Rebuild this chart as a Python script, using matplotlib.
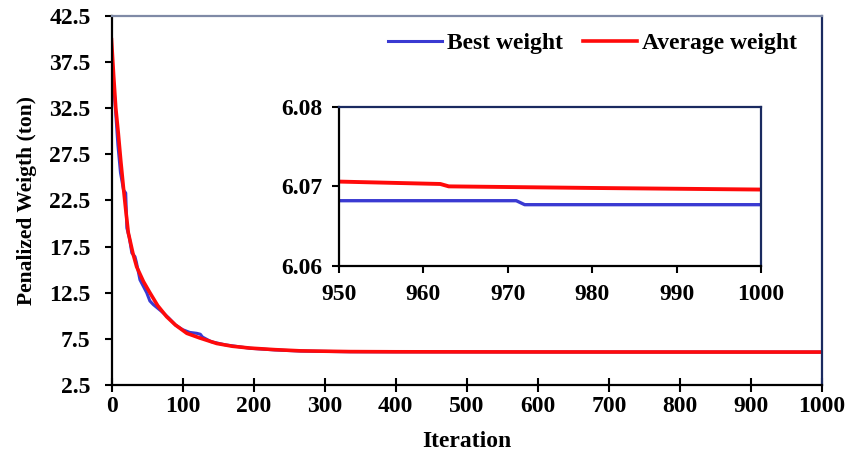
import matplotlib
matplotlib.use('Agg')

import matplotlib.pyplot as plt

# iteration points and penalized weight (ton)
iter_avg = [0, 3, 6, 9.5, 13, 16.6, 20, 23.6, 30, 35.4, 45, 54, 65, 77.6,
            90, 106, 124, 148, 170, 195, 230, 266, 336, 400, 500, 600, 700,
            800, 900, 950, 962, 963, 980, 1000]
avg_weight = [39.9, 36.0, 32.5, 29.8, 26.8, 24.0, 21.5, 19.0, 16.8, 15.3,
              13.7, 12.5, 11.1, 9.9, 9.0, 8.1, 7.6, 7.0, 6.7, 6.5, 6.33,
              6.2, 6.12, 6.1, 6.09, 6.082, 6.077, 6.074, 6.072, 6.0706,
              6.0703, 6.0700, 6.0698, 6.0696]

iter_best = [0, 5, 9, 12.6, 17, 20, 21.6, 25, 28.6, 33, 35, 40, 49.5, 54,
             59, 70, 80, 90, 100, 110, 120, 125, 128, 140, 160, 195, 230,
             266, 336, 400, 500, 600, 700, 800, 900, 950, 971, 972, 1000]
best_weight = [38.0, 33.0, 28.5, 25.5, 23.6, 23.3, 19.5, 18.5, 16.8, 16.4,
               15.8, 13.9, 12.5, 11.6, 11.2, 10.5, 9.8, 9.0, 8.5, 8.2, 8.1,
               8.0, 7.7, 7.2, 6.85, 6.48, 6.3, 6.18, 6.1, 6.09, 6.085,
               6.078, 6.074, 6.071, 6.069, 6.0682, 6.0682, 6.0677, 6.0677]

legend_labels = ['Best weight', 'Average weight']

plt.rcParams['font.family'] = ['Liberation Serif', 'DejaVu Serif']
plt.rcParams['font.weight'] = 'bold'

blue = '#3a3ad2'
red = '#ff0a0a'

fig = plt.figure(figsize=(8.48, 4.55), dpi=100)
ax = fig.add_axes([0.1315, 0.1538, 0.838, 0.8117])

ax.plot(iter_best, best_weight, color=blue, linewidth=2.2,
        label=legend_labels[0])
ax.plot(iter_avg, avg_weight, color=red, linewidth=2.6,
        label=legend_labels[1])

ax.set_xlim(0, 1000)
ax.set_ylim(2.5, 42.5)
ax.set_xticks(range(0, 1001, 100))
ax.set_yticks([2.5 + 5 * i for i in range(9)])
ax.set_yticklabels(['%.1f' % (2.5 + 5 * i) for i in range(9)])
ax.tick_params(axis='x', direction='inout', length=10, width=1.5,
               labelsize=17, pad=3)
ax.tick_params(axis='y', direction='out', length=5, width=1.5,
               labelsize=17, pad=10)
ax.spines['left'].set_linewidth(1.6)
ax.spines['bottom'].set_linewidth(1.6)
ax.spines['top'].set_color('#7f8aa6')
ax.spines['top'].set_linewidth(1.6)
ax.spines['right'].set_color('#1a2a60')
ax.spines['right'].set_linewidth(1.6)
ax.set_xlabel('Iteration', fontsize=17, fontweight='bold', labelpad=10)
ax.set_ylabel('Penalized Weigth (ton)', fontsize=15.5, fontweight='bold',
              labelpad=9)

ax.legend(loc='center right', ncol=2, frameon=False, fontsize=17,
          handlelength=2.3, handletextpad=0.2, columnspacing=0.85,
          borderpad=0, borderaxespad=0,
          bbox_to_anchor=(797 / 848, 1 - 43 / 455),
          bbox_transform=fig.transFigure)

# inset zoom on the last 50 iterations
ins = fig.add_axes([0.3998, 0.4154, 0.4976, 0.350])
ins.plot(iter_best, best_weight, color=blue, linewidth=2.4)
ins.plot(iter_avg, avg_weight, color=red, linewidth=2.8)
ins.set_xlim(950, 1000)
ins.set_ylim(6.06, 6.08)
ins.set_xticks(range(950, 1001, 10))
ins.set_yticks([6.06, 6.07, 6.08])
ins.tick_params(direction='out', length=5, width=1.5, labelsize=17)
ins.tick_params(axis='x', pad=8)
ins.tick_params(axis='y', pad=7)
ins.spines['left'].set_linewidth(1.6)
ins.spines['bottom'].set_linewidth(1.6)
for side in ('top', 'right'):
    ins.spines[side].set_color('#1a2a60')
    ins.spines[side].set_linewidth(1.6)

fig.savefig('out.png', dpi=100)
plt.close(fig)
